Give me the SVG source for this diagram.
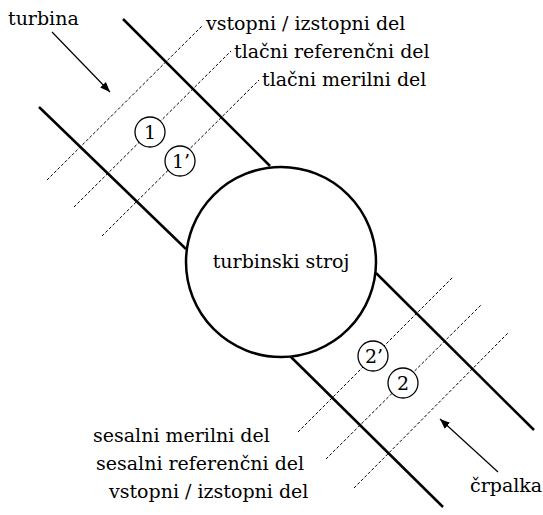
<svg xmlns="http://www.w3.org/2000/svg" width="543" height="515" viewBox="0 0 543 515">
<style>
text{font-family:"DejaVu Serif","Liberation Serif",serif;font-size:19px;fill:#000}
.thick{stroke:#000;stroke-width:2.5;fill:none}
.dash{stroke:#000;stroke-width:1;stroke-dasharray:3 2;fill:none}
.arr{stroke:#000;stroke-width:1.2;fill:none}
.sc{fill:#fff;stroke:#000;stroke-width:1.3}
.num{font-size:19px;text-anchor:middle}
</style>
<defs>
<marker id="ah" viewBox="0 0 10 10" refX="10" refY="5" markerWidth="10" markerHeight="10" markerUnits="userSpaceOnUse" orient="auto">
<path d="M0,1 L10,5 L0,9 Z" fill="#000"/>
</marker>
</defs>
<rect width="543" height="515" fill="#fff"/>
<g id="connectors">
<line class="thick" x1="123" y1="19" x2="270" y2="166"/>
<line class="thick" x1="39" y1="107" x2="186" y2="249"/>
<line class="thick" x1="290" y1="356" x2="443" y2="507"/>
<line class="thick" x1="376" y1="273" x2="534" y2="430"/>
<line class="dash" x1="47" y1="180" x2="202" y2="26"/>
<line class="dash" x1="74" y1="207" x2="231" y2="51"/>
<line class="dash" x1="102" y1="236" x2="259" y2="80"/>
<line class="dash" x1="298" y1="432" x2="453" y2="277"/>
<line class="dash" x1="326" y1="459" x2="481" y2="305"/>
<line class="dash" x1="354" y1="488" x2="508" y2="333"/>
<line class="arr" x1="52" y1="32" x2="110" y2="92" marker-end="url(#ah)"/>
<line class="arr" x1="498" y1="472" x2="440" y2="419" marker-end="url(#ah)"/>
</g>
<g id="machine">
<circle cx="281" cy="262" r="95" fill="#fff" stroke="#000" stroke-width="2.5"/>
<text x="281" y="268" text-anchor="middle">turbinski stroj</text>
</g>
<g id="p1"><circle class="sc" cx="150" cy="132" r="15"/><text class="num" x="150" y="139">1</text></g>
<g id="p1b"><circle class="sc" cx="180" cy="161" r="15"/><text class="num" x="181" y="168">1’</text></g>
<g id="p2b"><circle class="sc" cx="373" cy="356" r="15"/><text class="num" x="374" y="363">2’</text></g>
<g id="p2"><circle class="sc" cx="403" cy="383" r="15"/><text class="num" x="403" y="390">2</text></g>
<g id="labels">
<text x="8" y="25">turbina</text>
<text x="206" y="30">vstopni / izstopni del</text>
<text x="234" y="58">tlačni referenčni del</text>
<text x="262" y="86">tlačni merilni del</text>
<text x="93" y="442">sesalni merilni del</text>
<text x="96" y="470">sesalni referenčni del</text>
<text x="109" y="498">vstopni / izstopni del</text>
<text x="470" y="492">črpalka</text>
</g>
</svg>
